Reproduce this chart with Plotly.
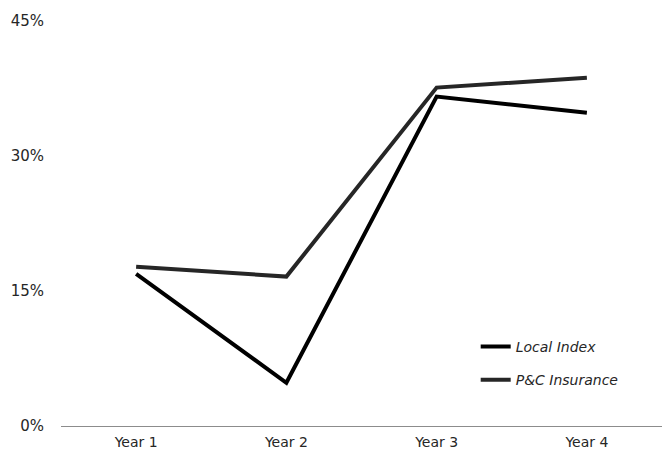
import plotly.graph_objects as go

categories = ["Year 1", "Year 2", "Year 3", "Year 4"]
local_index = [16.9, 4.8, 36.6, 34.8]
pc_insurance = [17.7, 16.6, 37.6, 38.7]
y_ticks = [0, 15, 30, 45]
y_tick_labels = ["0%", "15%", "30%", "45%"]

fig = go.Figure()
fig.add_trace(go.Scatter(x=categories, y=local_index, mode="lines", name="Local Index",
                         line=dict(color="#000000", width=4), legendgroup="a"))
fig.add_trace(go.Scatter(x=categories, y=pc_insurance, mode="lines", name="P&C Insurance",
                         line=dict(color="#262626", width=4), legendgroup="b"))

font_family = "DejaVu Sans, Verdana, sans-serif"
fig.update_layout(
    width=662, height=451,
    margin=dict(l=61, r=0, t=21, b=25),
    paper_bgcolor="white", plot_bgcolor="white",
    font=dict(family=font_family, size=15, color="#262626"),
    showlegend=True,
    legend=dict(x=0.69, y=0.235, xanchor="left", yanchor="top",
                font=dict(family=font_family, size=14, color="#262626", style="italic"),
                bgcolor="rgba(0,0,0,0)", traceorder="grouped", tracegroupgap=12),
    xaxis=dict(range=[-0.5, 3.5], showgrid=False, showline=True, linecolor="#8c8c8c", linewidth=1,
               ticks="", zeroline=False, automargin=False, ticklabelstandoff=3,
               tickfont=dict(size=14)),
    yaxis=dict(range=[0, 45], tickvals=y_ticks, ticktext=y_tick_labels, showgrid=False,
               showline=False, zeroline=False, ticks="", ticklabelstandoff=16, automargin=False),
)
fig.write_html("out.html")
